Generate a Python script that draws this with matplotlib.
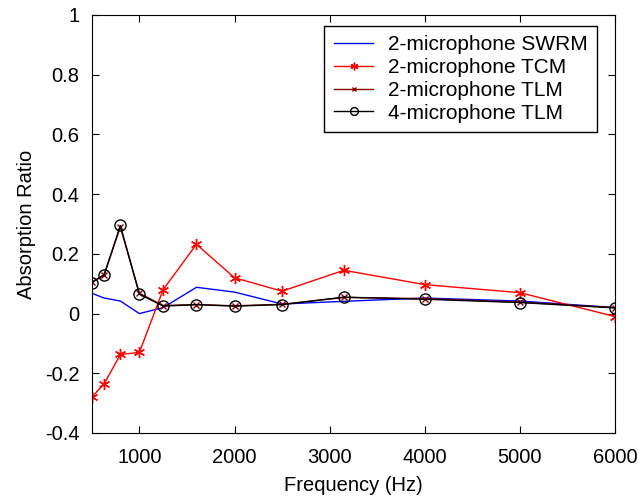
import matplotlib
matplotlib.use('Agg')
import matplotlib.pyplot as plt
from matplotlib.ticker import FuncFormatter

freqs = [500, 630, 800, 1000, 1250, 1600, 2000, 2500, 3150, 4000, 5000, 6000]
swrm_2mic = [0.068, 0.052, 0.042, 0.0, 0.02, 0.088, 0.072, 0.032, 0.041, 0.052, 0.042, 0.02]
tcm_2mic = [-0.28, -0.235, -0.137, -0.13, 0.08, 0.232, 0.12, 0.075, 0.145, 0.097, 0.07, -0.01]
tlm_2mic = [0.105, 0.13, 0.29, 0.068, 0.027, 0.03, 0.026, 0.031, 0.054, 0.05, 0.038, 0.02]
tlm_4mic = [0.103, 0.13, 0.295, 0.065, 0.025, 0.03, 0.025, 0.03, 0.055, 0.048, 0.037, 0.019]

plt.rcParams['font.family'] = ['Liberation Sans', 'DejaVu Sans']

fig = plt.figure(figsize=(6.42, 5.0), dpi=100)
ax = fig.add_axes([0.143, 0.134, 0.815, 0.836])

ax.plot(freqs, swrm_2mic, color='blue', lw=1, label='2-microphone SWRM')
ax.plot(freqs, tcm_2mic, color='red', lw=1, marker=(6, 2, 0), markersize=8,
        markeredgewidth=1, label='2-microphone TCM')
ax.plot(freqs, tlm_2mic, color='#8b0000', lw=1, marker='x', markersize=5,
        markeredgewidth=1, label='2-microphone TLM')
ax.plot(freqs, tlm_4mic, color='black', lw=1, marker='o', markersize=8,
        markerfacecolor='none', markeredgewidth=1, label='4-microphone TLM')

ax.set_xlim(500, 6000)
ax.set_ylim(-0.4, 1.0)
ax.set_xticks([1000, 2000, 3000, 4000, 5000, 6000])
ax.set_yticks([-0.4, -0.2, 0, 0.2, 0.4, 0.6, 0.8, 1.0])
ax.yaxis.set_major_formatter(FuncFormatter(lambda v, p: f'{v:g}'))
ax.tick_params(direction='in', top=True, right=True, labelsize=14.5, length=5)
ax.tick_params(axis='x', pad=11)
ax.tick_params(axis='y', pad=9)

ax.set_xlabel('Frequency (Hz)', fontsize=14.5, labelpad=6)
ax.set_ylabel('Absorption Ratio', fontsize=14.5, labelpad=6)

leg = ax.legend(loc='upper right', fontsize=15, fancybox=False, framealpha=1,
                edgecolor='black', handlelength=1.9, handletextpad=0.7,
                labelspacing=0.18, borderpad=0.45, borderaxespad=0,
                markerscale=0.7,
                bbox_to_anchor=(597 / 642, 1 - 26 / 500),
                bbox_transform=fig.transFigure)
leg.get_frame().set_linewidth(1)

fig.savefig('out.png', dpi=100)
